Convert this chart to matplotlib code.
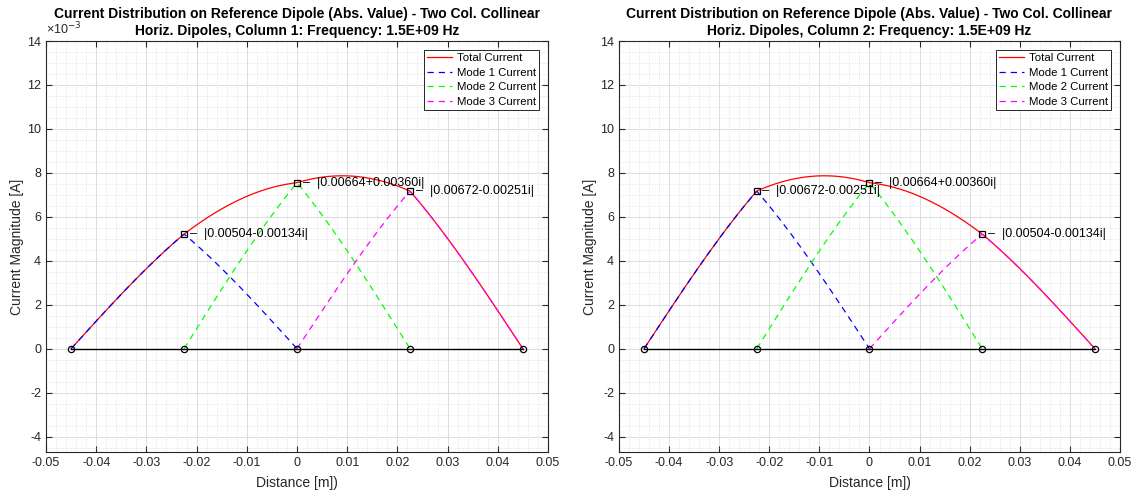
import numpy as np
import matplotlib.pyplot as plt
from matplotlib.ticker import MultipleLocator, FuncFormatter

plt.rcParams['font.family'] = ['Liberation Sans', 'DejaVu Sans']
plt.rcParams['axes.unicode_minus'] = False

# dipole segmentation and mode currents
freq = 1.5e9
c0 = 3e8
nodes = np.array([-0.045, -0.0225, 0.0, 0.0225, 0.045])
currents_col1 = np.array([0.00504 - 0.00134j, 0.00664 + 0.00360j, 0.00672 - 0.00251j])
currents_col2 = np.array([0.00672 - 0.00251j, 0.00664 + 0.00360j, 0.00504 - 0.00134j])
mode_colors = ['#0000ff', '#00ff00', '#ff00ff']

k = 2 * np.pi * freq / c0
h = nodes[1] - nodes[0]


def pws(z, zc):
    # piecewise sinusoidal basis function centred on zc
    d = np.abs(z - zc)
    return np.where(d <= h, np.sin(k * (h - np.minimum(d, h))) / np.sin(k * h), 0.0)


def label(I):
    sign = '+' if I.imag >= 0 else '-'
    return '\u2013  |%.5f%s%.5fi|' % (I.real, sign, abs(I.imag))


def draw(ax, currents, col, show_exp):
    centres = nodes[1:-1]
    z = np.linspace(nodes[0], nodes[-1], 600)
    total = sum(abs(I) * pws(z, zc) for I, zc in zip(currents, centres))
    ax.plot(z, total, color='#ff0000', lw=0.9, label='Total Current')
    for n, (I, zc) in enumerate(zip(currents, centres)):
        zm = np.linspace(zc - h, zc + h, 200)
        ax.plot(zm, abs(I) * pws(zm, zc), color=mode_colors[n], lw=0.9,
                linestyle=(0, (5, 4)), label='Mode %d Current' % (n + 1))
    ax.plot(nodes, np.zeros_like(nodes), color='black', lw=1.0, marker='o',
            mfc='none', mec='black', ms=4.5, mew=0.9)
    ax.plot(centres, np.abs(currents), linestyle='none', marker='s',
            mfc='none', mec='black', ms=4, mew=0.9)
    for I, zc in zip(currents, centres):
        ax.annotate(label(I), (zc, abs(I)), xytext=(4, 0), textcoords='offset points',
                    ha='left', va='center', fontsize=9)

    ax.set_xlim(-0.05, 0.05)
    ax.set_ylim(-4.7e-3, 14e-3)
    ax.xaxis.set_major_locator(MultipleLocator(0.01))
    ax.xaxis.set_minor_locator(MultipleLocator(0.002))
    ax.yaxis.set_major_locator(MultipleLocator(2e-3))
    ax.yaxis.set_minor_locator(MultipleLocator(0.5e-3))
    ax.xaxis.set_major_formatter(FuncFormatter(lambda v, p: '%g' % (round(v, 4) + 0.0)))
    ax.yaxis.set_major_formatter(FuncFormatter(lambda v, p: '%g' % (round(v * 1e3, 3) + 0.0)))
    ax.grid(which='major', color='#dcdcdc', lw=0.7)
    ax.grid(which='minor', color='#d0d0d0', lw=0.5, linestyle=(0, (1, 2)))
    ax.set_axisbelow(True)
    ax.tick_params(which='both', direction='in', top=True, right=True,
                   labelsize=9, colors='#262626')
    ax.tick_params(which='major', length=4)
    ax.tick_params(which='minor', length=0)
    for s in ax.spines.values():
        s.set_color('#262626')
        s.set_linewidth(0.8)

    # two-line title, one text per line
    ax.text(0.5, 1.055, 'Current Distribution on Reference Dipole (Abs. Value) - Two Col. Collinear',
            transform=ax.transAxes, ha='center', va='baseline', fontsize=10, fontweight='bold')
    ax.text(0.5, 1.014, 'Horiz. Dipoles, Column %d: Frequency: 1.5E+09 Hz' % col,
            transform=ax.transAxes, ha='center', va='baseline', fontsize=10, fontweight='bold')
    ax.set_xlabel('Distance [m])', fontsize=10, color='#262626', labelpad=5)
    ax.set_ylabel('Current Magnitude [A]', fontsize=10, color='#262626', labelpad=2)
    if show_exp:
        ax.text(0.0, 1.008, '\u00d710$^{-3}$', transform=ax.transAxes,
                ha='left', va='bottom', fontsize=9, color='#262626')

    leg = ax.legend(loc='upper right', fontsize=8.2, handlelength=2.2,
                    labelspacing=0.4, borderaxespad=0.75, fancybox=False,
                    framealpha=1, edgecolor='#262626', borderpad=0.3,
                    handletextpad=0.4)
    leg.get_frame().set_linewidth(0.7)


fig = plt.figure(figsize=(11.36, 4.94), dpi=100)
ax1 = fig.add_axes([0.0405, 0.085, 0.4419, 0.832])
ax2 = fig.add_axes([0.5449, 0.085, 0.441, 0.832])
draw(ax1, currents_col1, 1, True)
draw(ax2, currents_col2, 2, False)

plt.savefig('out.png', dpi=100)
